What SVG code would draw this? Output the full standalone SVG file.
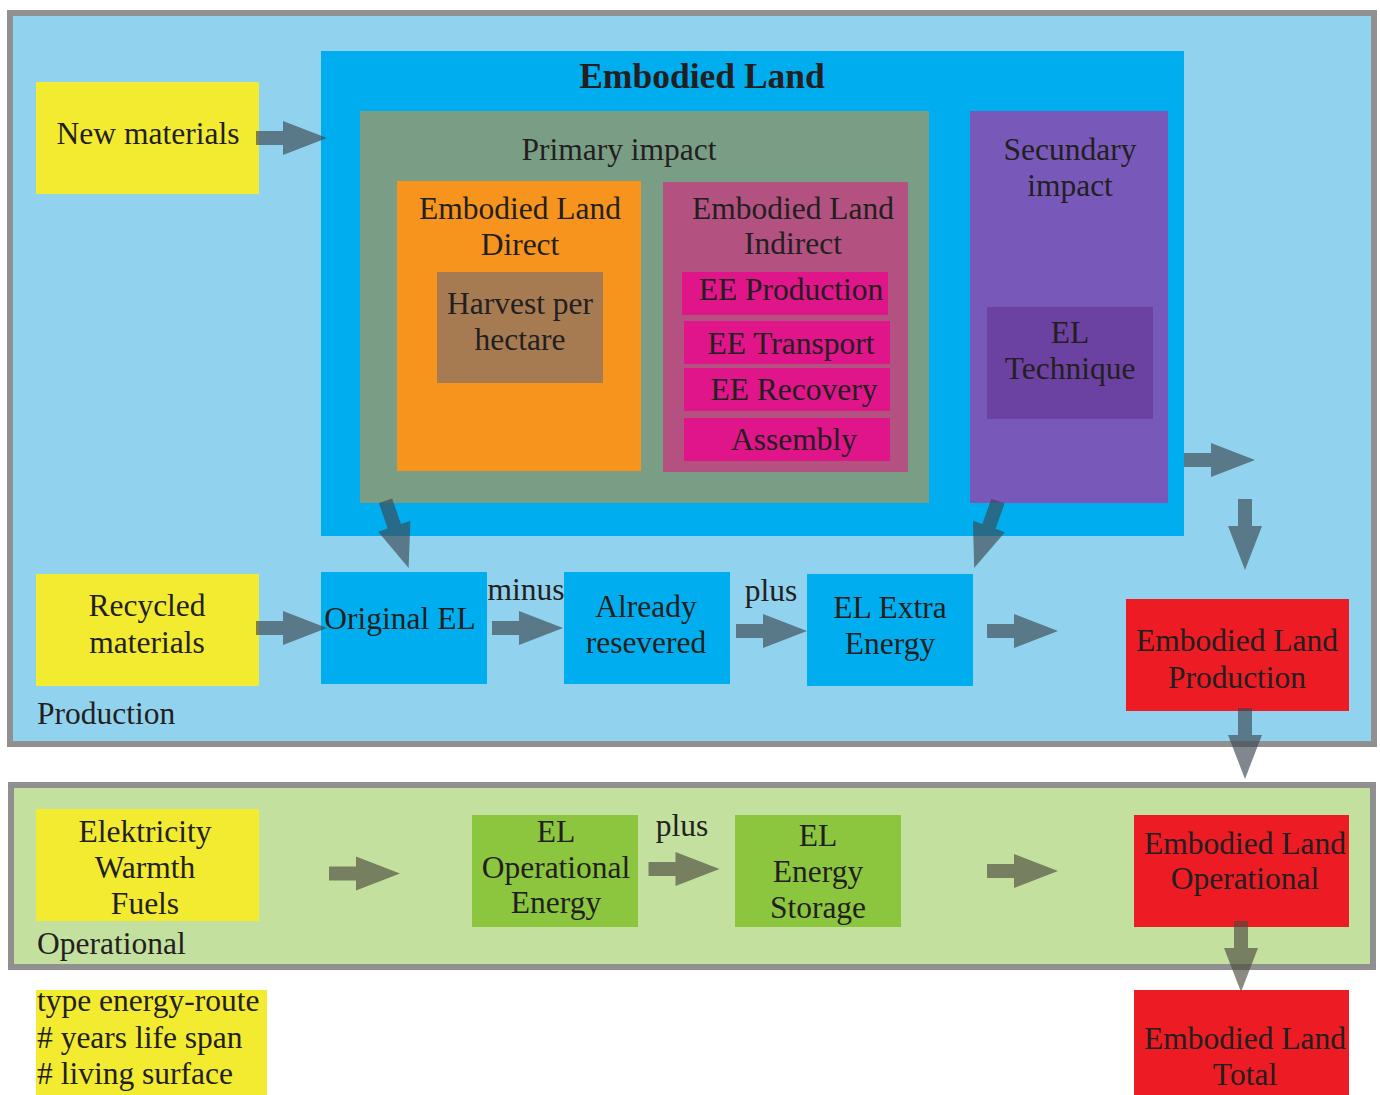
<svg xmlns="http://www.w3.org/2000/svg" xmlns:xlink="http://www.w3.org/1999/xlink" width="1380" height="1095" viewBox="0 0 1380 1095">
  <style>
    text { font-family: "Liberation Serif", "Times New Roman", serif; font-size: 31.5px; fill: #231f20; }
    .c { text-anchor: middle; }
    .title { font-size: 35.5px; font-weight: bold; }
    .frame { stroke: #909090; stroke-width: 6; }
    .prod { fill: #91d3ee; }
    .oper { fill: #c4e09f; }
    .yellow { fill: #f3eb30; }
    .blue { fill: #00aeef; }
    .primary { fill: #7a9e85; }
    .orange { fill: #f7941e; }
    .brown { fill: #a67b52; }
    .indirect { fill: #b35280; }
    .magenta { fill: #df1589; }
    .secundary { fill: #7859b9; }
    .technique { fill: #6b41a1; }
    .red { fill: #ed1c24; }
    .green { fill: #8cc63f; }
    .arr { fill: rgb(60,70,82); fill-opacity: 0.65; }
    .arr-op { fill: rgb(77,75,62); fill-opacity: 0.65; }
  </style>
  <defs>
    <!-- block arrow pointing along +x, origin at the middle of the tail -->
    <path id="blk" d="M0,-7 H27 V-17 L71,0 L27,17 V7 H0 Z"/>
  </defs>

  <rect width="1380" height="1095" fill="#ffffff"/>

  <!-- section frames -->
  <g id="production">
    <rect class="frame prod" x="10" y="13" width="1364" height="731"/>
    <text x="37" y="724">Production</text>
  </g>
  <g id="operational">
    <rect class="frame oper" x="11" y="785" width="1362" height="182"/>
    <text x="37" y="954">Operational</text>
  </g>

  <!-- production nodes -->
  <g id="new-materials">
    <rect class="yellow" x="36" y="82" width="223" height="112"/>
    <text class="c" x="148" y="144">New materials</text>
  </g>

  <g id="embodied-land">
    <rect class="blue" x="321" y="51" width="863" height="485"/>
    <text class="c title" x="702" y="88">Embodied Land</text>
  </g>

  <g id="primary-impact">
    <rect class="primary" x="360" y="111" width="569" height="392"/>
    <text class="c" x="619" y="160">Primary impact</text>
  </g>

  <g id="el-direct">
    <rect class="orange" x="397" y="181" width="244" height="290"/>
    <text class="c" x="520" y="219">Embodied Land</text>
    <text class="c" x="520" y="255">Direct</text>
  </g>

  <g id="harvest">
    <rect class="brown" x="437" y="272" width="166" height="111"/>
    <text class="c" x="520" y="314">Harvest per</text>
    <text class="c" x="520" y="350">hectare</text>
  </g>

  <g id="el-indirect">
    <rect class="indirect" x="663" y="182" width="245" height="290"/>
    <text class="c" x="793" y="219">Embodied Land</text>
    <text class="c" x="793" y="254">Indirect</text>
  </g>

  <g id="ee-production">
    <rect class="magenta" x="682" y="272" width="206" height="43"/>
    <text class="c" x="791" y="300">EE Production</text>
  </g>
  <g id="ee-transport">
    <rect class="magenta" x="684" y="321" width="206" height="43"/>
    <text class="c" x="791" y="354">EE Transport</text>
  </g>
  <g id="ee-recovery">
    <rect class="magenta" x="684" y="368" width="206" height="43"/>
    <text class="c" x="794" y="400">EE Recovery</text>
  </g>
  <g id="assembly">
    <rect class="magenta" x="684" y="418" width="206" height="43"/>
    <text class="c" x="794" y="450">Assembly</text>
  </g>

  <g id="secundary-impact">
    <rect class="secundary" x="970" y="111" width="198" height="392"/>
    <text class="c" x="1070" y="160">Secundary</text>
    <text class="c" x="1070" y="196">impact</text>
  </g>
  <g id="el-technique">
    <rect class="technique" x="987" y="307" width="166" height="112"/>
    <text class="c" x="1070" y="343">EL</text>
    <text class="c" x="1070" y="379">Technique</text>
  </g>

  <g id="recycled-materials">
    <rect class="yellow" x="36" y="574" width="223" height="112"/>
    <text class="c" x="147" y="616">Recycled</text>
    <text class="c" x="147" y="653">materials</text>
  </g>

  <g id="original-el">
    <rect class="blue" x="321" y="572" width="166" height="112"/>
    <text class="c" x="400" y="629">Original EL</text>
  </g>

  <g id="already-resevered">
    <rect class="blue" x="564" y="572" width="166" height="112"/>
    <text class="c" x="646" y="617">Already</text>
    <text class="c" x="646" y="653">resevered</text>
  </g>

  <g id="el-extra-energy">
    <rect class="blue" x="807" y="574" width="166" height="112"/>
    <text class="c" x="890" y="618">EL Extra</text>
    <text class="c" x="890" y="654">Energy</text>
  </g>

  <g id="el-production">
    <rect class="red" x="1126" y="599" width="223" height="112"/>
    <text class="c" x="1237" y="651">Embodied Land</text>
    <text class="c" x="1237" y="688">Production</text>
  </g>

  <!-- operational nodes -->
  <g id="energy-sources">
    <rect class="yellow" x="36" y="809" width="223" height="112"/>
    <text class="c" x="145" y="842">Elektricity</text>
    <text class="c" x="145" y="878">Warmth</text>
    <text class="c" x="145" y="914">Fuels</text>
  </g>

  <g id="el-operational-energy">
    <rect class="green" x="472" y="815" width="166" height="112"/>
    <text class="c" x="556" y="842">EL</text>
    <text class="c" x="556" y="878">Operational</text>
    <text class="c" x="556" y="913">Energy</text>
  </g>

  <g id="el-energy-storage">
    <rect class="green" x="735" y="815" width="166" height="112"/>
    <text class="c" x="818" y="846">EL</text>
    <text class="c" x="818" y="882">Energy</text>
    <text class="c" x="818" y="918">Storage</text>
  </g>

  <g id="el-operational">
    <rect class="red" x="1134" y="815" width="215" height="112"/>
    <text class="c" x="1245" y="854">Embodied Land</text>
    <text class="c" x="1245" y="889">Operational</text>
  </g>

  <g id="el-total">
    <rect class="red" x="1134" y="990" width="215" height="105"/>
    <text class="c" x="1245" y="1049">Embodied Land</text>
    <text class="c" x="1245" y="1085">Total</text>
  </g>

  <g id="parameters">
    <rect class="yellow" x="36" y="990" width="231" height="105"/>
    <text x="37" y="1011">type energy-route</text>
    <text x="37" y="1048">#&#160;years life span</text>
    <text x="37" y="1084">#&#160;living surface</text>
  </g>

  <!-- connectors -->
  <g id="connectors">
    <use xlink:href="#blk" class="arr" transform="translate(256,138)"/>
    <use xlink:href="#blk" class="arr" transform="translate(256,628)"/>
    <use xlink:href="#blk" class="arr" transform="translate(492,628)"/>
    <use xlink:href="#blk" class="arr" transform="translate(736,631)"/>
    <use xlink:href="#blk" class="arr" transform="translate(987,631)"/>
    <use xlink:href="#blk" class="arr" transform="translate(1184,460)"/>
    <use xlink:href="#blk" class="arr" transform="translate(1245,499) rotate(90)"/>
    <use xlink:href="#blk" class="arr" transform="translate(1245,708) rotate(90)"/>
    <use xlink:href="#blk" class="arr" transform="translate(385.5,500.8) rotate(71)"/>
    <use xlink:href="#blk" class="arr" transform="translate(998,501) rotate(109.6)"/>
    <use xlink:href="#blk" class="arr-op" transform="translate(329,873.5)"/>
    <use xlink:href="#blk" class="arr-op" transform="translate(648.5,869)"/>
    <use xlink:href="#blk" class="arr-op" transform="translate(987,871)"/>
    <use xlink:href="#blk" class="arr-op" transform="translate(1241,921) rotate(90)"/>
  </g>

  <!-- connector labels -->
  <g id="labels">
    <text class="c" x="526" y="600">minus</text>
    <text class="c" x="771" y="601">plus</text>
    <text class="c" x="682" y="836">plus</text>
  </g>
</svg>
